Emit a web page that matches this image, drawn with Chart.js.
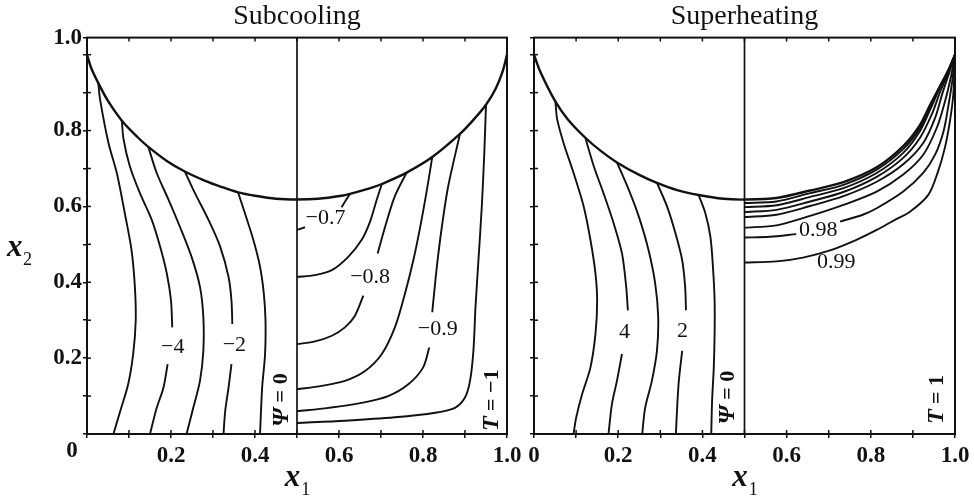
<!DOCTYPE html>
<html>
<head>
<meta charset="utf-8">
<script src="https://cdn.jsdelivr.net/npm/chart.js@4.4.0/dist/chart.umd.min.js"></script>
<style>
  html, body { margin: 0; padding: 0; background: #fff; }
  #wrap { position: relative; width: 974px; height: 500px; overflow: hidden; }
  #leftPanel { position: absolute; left: 0; top: 0; }
  #rightPanel { position: absolute; left: 514px; top: 0; }
</style>
</head>
<body>
<div id="wrap">
  <canvas id="leftPanel" width="540" height="500"></canvas>
  <canvas id="rightPanel" width="460" height="500"></canvas>
</div>
<script>
// axes
var xTicks = [0, 0.1, 0.2, 0.3, 0.4, 0.5, 0.6, 0.7, 0.8, 0.9, 1.0];
var xLabelled = [0, 0.2, 0.4, 0.6, 0.8, 1.0];
var yTicks = [0, 0.1, 0.2, 0.3, 0.4, 0.5, 0.6, 0.7, 0.8, 0.9, 1.0];
var yLabelled = [0.2, 0.4, 0.6, 0.8];
var yTop = 1.045;

// free surface (arc) in each panel
var subArc = [[0, 1.0], [0.01, 0.965], [0.027, 0.925], [0.05, 0.878], [0.083, 0.826], [0.12, 0.783], [0.146, 0.757], [0.19, 0.72], [0.233, 0.692], [0.28, 0.668], [0.321, 0.651], [0.36, 0.637], [0.4, 0.628], [0.45, 0.62], [0.5, 0.618], [0.55, 0.62], [0.606, 0.628], [0.626, 0.633], [0.68, 0.65], [0.702, 0.659], [0.761, 0.689], [0.822, 0.73], [0.888, 0.791], [0.92, 0.828], [0.95, 0.868], [0.973, 0.91], [0.99, 0.957], [1.0, 1.0]];
var supArc = [[0, 1.0], [0.015, 0.955], [0.051, 0.876], [0.08, 0.83], [0.122, 0.781], [0.16, 0.745], [0.197, 0.716], [0.25, 0.683], [0.292, 0.662], [0.34, 0.643], [0.391, 0.63], [0.45, 0.62], [0.5, 0.618], [0.576, 0.622], [0.656, 0.642], [0.735, 0.664], [0.814, 0.703], [0.877, 0.759], [0.917, 0.815], [0.941, 0.868], [0.965, 0.918], [0.985, 0.96], [1.0, 1.0]];
var midLine = [[0.5, 0], [0.5, yTop]];

// subcooling, stream function (null = gap for a label)
var subPsiA = [[0.027, 0.925], [0.031, 0.883], [0.051, 0.768], [0.071, 0.688], [0.09, 0.582], [0.106, 0.485], [0.114, 0.388], [0.116, 0.299], [0.11, 0.211], [0.098, 0.131], [0.079, 0.06], [0.063, 0]];
var subPsiB = [[0.083, 0.826], [0.087, 0.777], [0.102, 0.706], [0.126, 0.635], [0.154, 0.565], [0.174, 0.494], [0.19, 0.423], [0.2, 0.352], [0.203, 0.281], null, [0.192, 0.184], [0.182, 0.122], [0.166, 0.069], [0.15, 0]];
var subPsiC = [[0.146, 0.757], [0.166, 0.688], [0.194, 0.618], [0.221, 0.547], [0.249, 0.467], [0.269, 0.388], [0.277, 0.308], [0.277, 0.219], [0.269, 0.14], [0.253, 0.069], [0.237, 0]];
var subPsiD = [[0.233, 0.692], [0.257, 0.635], [0.289, 0.565], [0.317, 0.494], [0.337, 0.414], [0.344, 0.352], [0.346, 0.29], null, [0.344, 0.184], [0.337, 0.122], [0.329, 0.06], [0.325, 0]];
var subPsiE = [[0.36, 0.636], [0.376, 0.582], [0.396, 0.512], [0.412, 0.441], [0.421, 0.37], [0.425, 0.299], [0.424, 0.211], [0.417, 0.122], [0.412, 0]];

// subcooling, temperature
var subT1 = [[0.5, 0.538], [0.519, 0.545], null, [0.606, 0.598], [0.626, 0.633]];
var subT2 = [[0.5, 0.414], [0.543, 0.419], [0.583, 0.432], [0.622, 0.467], [0.654, 0.512], [0.674, 0.56], [0.69, 0.618], [0.702, 0.659]];
var subT3 = [[0.5, 0.237], [0.543, 0.244], [0.583, 0.259], [0.614, 0.281], [0.638, 0.312], [0.658, 0.365], null, [0.692, 0.476], [0.71, 0.547], [0.733, 0.627], [0.761, 0.689]];
var subT4 = [[0.5, 0.118], [0.559, 0.127], [0.614, 0.14], [0.662, 0.166], [0.702, 0.211], [0.733, 0.281], [0.757, 0.37], [0.777, 0.458], [0.792, 0.538], [0.808, 0.635], [0.822, 0.73]];
var subT5 = [[0.5, 0.06], [0.575, 0.069], [0.654, 0.082], [0.717, 0.1], [0.765, 0.131], [0.8, 0.175], [0.815, 0.228], null, [0.822, 0.321], [0.833, 0.441], [0.845, 0.547], [0.86, 0.653], [0.888, 0.791]];
var subT6 = [[0.5, 0.029], [0.614, 0.035], [0.733, 0.044], [0.829, 0.056], [0.876, 0.069], [0.9, 0.096], [0.912, 0.14], [0.92, 0.219], [0.925, 0.335], [0.932, 0.458], [0.94, 0.6], [0.946, 0.742], [0.95, 0.868]];

// superheating, stream function
var supPsiA = [[0.051, 0.876], [0.055, 0.83], [0.07, 0.768], [0.094, 0.688], [0.118, 0.6], [0.134, 0.512], [0.146, 0.423], [0.15, 0.352], [0.146, 0.264], [0.134, 0.175], [0.114, 0.104], [0.1, 0.042], [0.094, 0]];
var supPsiB = [[0.122, 0.781], [0.142, 0.706], [0.165, 0.635], [0.189, 0.556], [0.209, 0.476], [0.219, 0.388], [0.223, 0.326], null, [0.209, 0.211], [0.197, 0.14], [0.185, 0.078], [0.177, 0]];
var supPsiC = [[0.197, 0.716], [0.225, 0.644], [0.249, 0.573], [0.272, 0.485], [0.288, 0.396], [0.295, 0.308], [0.292, 0.219], [0.28, 0.14], [0.264, 0.069], [0.257, 0]];
var supPsiD = [[0.292, 0.662], [0.316, 0.6], [0.336, 0.529], [0.352, 0.458], [0.359, 0.388], [0.361, 0.326], null, [0.352, 0.219], [0.344, 0.14], [0.34, 0.069], [0.337, 0]];
var supPsiE = [[0.391, 0.63], [0.407, 0.582], [0.419, 0.52], [0.425, 0.441], [0.429, 0.352], [0.429, 0.264], [0.427, 0.175], [0.423, 0.087], [0.421, 0]];

// superheating, temperature
var supT1 = [[0.5, 0.609], [0.576, 0.613], [0.656, 0.635], [0.735, 0.657], [0.814, 0.697], [0.877, 0.751], [0.917, 0.807], [0.941, 0.862], [0.962, 0.912], [0.984, 0.958], [1.0, 1.0]];
var supT2 = [[0.5, 0.598], [0.576, 0.603], [0.656, 0.625], [0.735, 0.648], [0.814, 0.688], [0.877, 0.741], [0.917, 0.799], [0.941, 0.855], [0.962, 0.908], [0.983, 0.957], [1.0, 1.0]];
var supT3 = [[0.5, 0.585], [0.576, 0.591], [0.656, 0.613], [0.735, 0.638], [0.814, 0.678], [0.877, 0.728], [0.917, 0.781], [0.945, 0.843], [0.965, 0.903], [0.985, 0.955], [1.0, 1.0]];
var supT4 = [[0.5, 0.572], [0.576, 0.578], [0.656, 0.601], [0.735, 0.627], [0.814, 0.665], [0.877, 0.711], [0.925, 0.768], [0.953, 0.834], [0.969, 0.894], [0.986, 0.952], [1.0, 1.0]];
var supT5 = [[0.5, 0.544], [0.576, 0.55], [0.656, 0.575], [0.735, 0.604], [0.814, 0.639], [0.877, 0.684], [0.925, 0.737], [0.957, 0.808], [0.976, 0.876], [0.99, 0.94], [1.0, 1.0]];
var supT6 = [[0.5, 0.518], [0.56, 0.52], [0.623, 0.527], null, [0.727, 0.56], [0.781, 0.578], [0.814, 0.595], [0.877, 0.639], [0.925, 0.689], [0.953, 0.737], [0.973, 0.799], [0.985, 0.87], [0.994, 0.935], [1.0, 1.0]];
var supT7 = [[0.5, 0.452], [0.576, 0.455], [0.639, 0.465], [0.703, 0.484], [0.766, 0.512], [0.814, 0.538], [0.853, 0.562], [0.893, 0.586], [0.937, 0.631], [0.96, 0.693], [0.976, 0.755], [0.988, 0.825], [0.996, 0.896], [1.0, 1.0]];

// contour labels [text, x, y]
var subLabels = [["\u22124", 0.204, 0.23], ["\u22122", 0.351, 0.233], ["\u22120.7", 0.568, 0.569], ["\u22120.8", 0.674, 0.413], ["\u22120.9", 0.835, 0.275]];
var supLabels = [["4", 0.215, 0.268], ["2", 0.353, 0.27], ["0.98", 0.675, 0.536], ["0.99", 0.718, 0.453]];
// boundary labels [symbol, rest, x, y]
var subSides = [["\u03A8", " = 0", 0.463, 0.089], ["T", " = \u22121", 0.964, 0.089]];
var supSides = [["\u03A8", " = 0", 0.461, 0.096], ["T", " = 1", 0.957, 0.091]];

var INK = "#111";
var FONT = "'Liberation Serif', 'Times New Roman', Times, serif";

function pts(list) {
  var out = [];
  for (var i = 0; i < list.length; i++) {
    var p = list[i];
    if (p === null) {
      out.push({ x: list[i - 1][0], y: null });
    } else {
      out.push({ x: p[0], y: p[1] });
    }
  }
  return out;
}

function curve(list, width) {
  return {
    data: pts(list),
    showLine: true,
    borderColor: INK,
    borderWidth: width || 1.8,
    pointRadius: 0,
    tension: 0.3,
    spanGaps: false,
  };
}

function drawSub(ctx, base, sub, cx, baseline) {
  ctx.font = "italic bold 31px " + FONT;
  var w1 = ctx.measureText(base).width;
  ctx.font = "18px " + FONT;
  var w2 = ctx.measureText(sub).width;
  var start = cx - (w1 + w2) / 2;
  ctx.textAlign = "left";
  ctx.textBaseline = "alphabetic";
  ctx.font = "italic bold 31px " + FONT;
  ctx.fillText(base, start, baseline);
  ctx.font = "18px " + FONT;
  ctx.fillText(sub, start + w1 + 1, baseline + 9);
}

function makeDecor(cfg) {
  return {
    id: "decor" + cfg.name,
    afterDatasetsDraw: function (chart) {
      var ctx = chart.ctx;
      var a = chart.chartArea;
      var xs = chart.scales.x;
      var ys = chart.scales.y;
      ctx.save();

      // frame and inward ticks
      ctx.strokeStyle = INK;
      ctx.lineWidth = 2;
      ctx.strokeRect(a.left, a.top, a.right - a.left, a.bottom - a.top);
      ctx.lineWidth = 1.5;
      xTicks.forEach(function (v) {
        var px = xs.getPixelForValue(v);
        ctx.beginPath();
        ctx.moveTo(px, a.bottom);
        ctx.lineTo(px, a.bottom - 4);
        ctx.moveTo(px, a.top);
        ctx.lineTo(px, a.top + 4);
        ctx.stroke();
      });
      yTicks.forEach(function (v) {
        var py = ys.getPixelForValue(v);
        ctx.beginPath();
        ctx.moveTo(a.left, py);
        ctx.lineTo(a.left + 4, py);
        ctx.stroke();
      });

      // contour values
      ctx.fillStyle = INK;
      ctx.font = "22px " + FONT;
      ctx.textAlign = "center";
      ctx.textBaseline = "middle";
      cfg.labels.forEach(function (l) {
        ctx.fillText(l[0], xs.getPixelForValue(l[1]), ys.getPixelForValue(l[2]));
      });

      // boundary conditions, written upwards
      cfg.sides.forEach(function (s) {
        var fSym = "italic bold 24px " + FONT;
        var fRest = "bold 22px " + FONT;
        ctx.font = fSym;
        var w1 = ctx.measureText(s[0]).width;
        ctx.font = fRest;
        var w2 = ctx.measureText(s[1]).width;
        ctx.save();
        ctx.translate(xs.getPixelForValue(s[2]), ys.getPixelForValue(s[3]));
        ctx.rotate(-Math.PI / 2);
        ctx.textAlign = "left";
        ctx.textBaseline = "middle";
        ctx.font = fSym;
        ctx.fillText(s[0], -(w1 + w2) / 2, 0);
        ctx.font = fRest;
        ctx.fillText(s[1], -(w1 + w2) / 2 + w1, 0);
        ctx.restore();
      });

      // axis titles
      drawSub(ctx, "x", "1", (a.left + a.right) / 2, 486);
      if (cfg.showY) {
        ctx.font = "italic bold 31px " + FONT;
        ctx.textAlign = "left";
        ctx.textBaseline = "alphabetic";
        ctx.fillText("x", 7, 256);
        ctx.font = "18px " + FONT;
        ctx.fillText("2", 23, 265);
        // shared origin label
        ctx.font = "bold 23px " + FONT;
        ctx.textAlign = "center";
        ctx.textBaseline = "middle";
        ctx.fillText("0", a.left - 15, 451);
      }
      ctx.restore();
    },
  };
}

function buildPanel(canvasId, cfg) {
  var datasets = [curve(cfg.arc, 2.4), curve(midLine, 1.7)];
  cfg.lines.forEach(function (l) {
    datasets.push(curve(l, 1.9));
  });

  new Chart(document.getElementById(canvasId), {
    type: "scatter",
    data: { datasets: datasets },
    options: {
      responsive: false,
      animation: false,
      layout: { padding: { left: 0, right: cfg.padRight, top: 0, bottom: 0 } },
      plugins: {
        legend: { display: false },
        tooltip: { enabled: false },
        title: {
          display: true,
          text: cfg.title,
          fullSize: false,
          color: INK,
          font: { family: FONT, size: 28, weight: "normal", lineHeight: 1.2 },
          padding: { top: 0, bottom: 4 },
        },
      },
      scales: {
        x: {
          type: "linear",
          min: 0,
          max: 1,
          afterBuildTicks: function (s) {
            s.ticks = xTicks.map(function (v) { return { value: v }; });
          },
          afterFit: function (s) { s.height = 66; },
          grid: { drawOnChartArea: false, drawTicks: true, tickLength: 4, color: INK, lineWidth: 1.5 },
          border: { display: false },
          ticks: {
            autoSkip: false,
            maxRotation: 0,
            padding: 4,
            color: INK,
            font: { family: FONT, size: 23, weight: "bold" },
            callback: function (v) {
              if (xLabelled.indexOf(v) < 0) return "";
              if (v === 0) return cfg.showY ? "" : "0";
              return v.toFixed(1);
            },
          },
        },
        y: {
          type: "linear",
          min: 0,
          max: yTop,
          afterBuildTicks: function (s) {
            s.ticks = yTicks.concat([yTop]).map(function (v) { return { value: v }; });
          },
          afterFit: function (s) { s.width = cfg.yWidth; },
          grid: { drawOnChartArea: false, drawTicks: true, tickLength: 4, color: INK, lineWidth: 1.5 },
          border: { display: false },
          ticks: {
            autoSkip: false,
            padding: 1,
            color: INK,
            font: { family: FONT, size: 23, weight: "bold" },
            callback: function (v) {
              if (!cfg.showY) return "";
              if (v === yTop || yLabelled.indexOf(v) >= 0) return v.toFixed(1);
              return "";
            },
          },
        },
      },
    },
    plugins: [makeDecor(cfg)],
  });
}

buildPanel("leftPanel", {
  name: "Sub",
  title: "Subcooling",
  arc: subArc,
  lines: [subPsiA, subPsiB, subPsiC, subPsiD, subPsiE, subT1, subT2, subT3, subT4, subT5, subT6],
  labels: subLabels,
  sides: subSides,
  showY: true,
  yWidth: 87,
  padRight: 33,
});

buildPanel("rightPanel", {
  name: "Sup",
  title: "Superheating",
  arc: supArc,
  lines: [supPsiA, supPsiB, supPsiC, supPsiD, supPsiE, supT1, supT2, supT3, supT4, supT5, supT6, supT7],
  labels: supLabels,
  sides: supSides,
  showY: false,
  yWidth: 20,
  padRight: 19,
});
</script>
</body>
</html>
